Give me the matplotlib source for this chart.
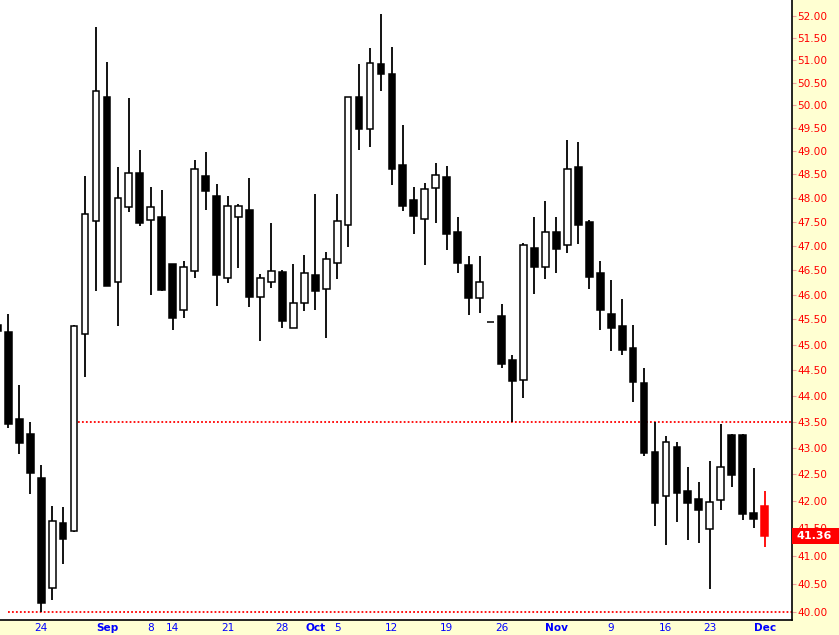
import matplotlib
matplotlib.use("Agg")
import matplotlib.pyplot as plt
import matplotlib.transforms as mtransforms
from matplotlib.patches import Rectangle
from matplotlib.ticker import FixedLocator, NullLocator
import numpy as np

# daily OHLC, one entry per trading session (first one is cut off at the left edge)
opens = [45.38, 45.24, 43.55, 43.26, 42.43, 40.43, 41.60, 41.45, 45.21, 47.51,
         50.18, 46.25, 47.81, 48.54, 47.53, 47.59, 46.63, 45.69, 46.48, 48.47,
         48.04, 46.33, 47.59, 47.74, 45.96, 46.25, 46.46, 45.33, 45.82, 46.39,
         46.12, 46.64, 47.44, 50.18, 49.48, 50.91, 50.69, 48.69, 47.95, 47.55,
         48.20, 48.45, 47.28, 46.61, 45.94, 45.45, 45.57, 44.70, 44.30, 46.96,
         46.56, 47.28, 47.02, 48.65, 47.50, 46.44, 45.61, 45.36, 44.94, 44.24,
         42.92, 42.09, 43.02, 42.19, 42.05, 41.49, 42.03, 43.24, 43.24, 41.78,
         41.92]
highs = [45.45, 45.60, 44.20, 43.49, 42.67, 41.92, 41.89, 45.38, 48.46, 51.75,
         50.97, 48.65, 50.16, 49.02, 48.23, 48.16, 46.63, 46.68, 48.80, 48.97,
         48.30, 48.04, 47.87, 48.43, 46.42, 47.47, 46.50, 46.63, 46.81, 48.09,
         46.88, 48.09, 50.19, 50.91, 51.27, 52.05, 51.30, 49.57, 48.24, 48.32,
         48.74, 48.68, 47.59, 46.79, 46.79, 45.45, 45.81, 44.80, 47.06, 47.59,
         47.93, 47.59, 49.25, 49.19, 47.54, 46.69, 46.29, 45.91, 45.38, 44.53,
         43.49, 43.22, 43.11, 42.64, 42.36, 42.75, 43.45, 43.27, 43.27, 42.62,
         42.19]
lows = [45.20, 43.37, 42.88, 42.13, 40.00, 40.22, 40.86, 41.44, 44.37, 46.08,
        46.17, 45.37, 47.70, 47.42, 46.00, 46.07, 45.28, 45.52, 46.33, 47.74,
        45.76, 46.23, 46.54, 45.74, 45.06, 46.14, 45.33, 45.33, 45.66, 45.68,
        45.12, 46.31, 46.97, 49.03, 49.09, 50.32, 48.28, 47.72, 47.24, 46.60,
        47.48, 46.92, 46.44, 45.58, 45.62, 45.45, 44.53, 43.50, 43.96, 46.02,
        46.31, 46.43, 46.84, 47.03, 46.12, 45.29, 44.87, 44.79, 43.88, 42.85,
        41.55, 41.20, 41.61, 41.28, 41.24, 40.40, 41.84, 42.27, 41.66, 41.50,
        41.17]
closes = [45.26, 43.45, 43.09, 42.52, 40.16, 41.63, 41.31, 45.37, 47.67, 50.31,
          46.18, 48.00, 48.54, 47.48, 47.81, 46.10, 45.52, 46.56, 48.62, 48.15,
          46.39, 47.83, 47.83, 45.96, 46.33, 46.48, 45.46, 45.82, 46.43, 46.08,
          46.72, 47.51, 50.18, 49.48, 50.94, 50.70, 48.61, 47.83, 47.61, 48.19,
          48.49, 47.24, 46.64, 45.94, 46.26, 45.45, 44.62, 44.28, 47.02, 46.56,
          47.28, 46.94, 48.61, 47.44, 46.35, 45.68, 45.33, 44.90, 44.26, 42.90,
          41.96, 43.10, 42.15, 41.96, 41.84, 41.98, 42.64, 42.49, 41.77, 41.67,
          41.36]

date_ticks = [3, 9, 13, 15, 20, 25, 28, 30, 35, 40, 45, 50, 55, 60, 64, 69]
date_labels = ["24", "Sep", "8", "14", "21", "28", "Oct", "5", "12", "19",
               "26", "Nov", "9", "16", "23", "Dec"]
month_labels = {"Sep", "Oct", "Nov", "Dec"}
price_ticks = np.arange(40.0, 52.01, 0.5)
levels = [43.50, 40.00]
level_start = [6, 0]
last_price = closes[-1]

x = np.arange(-1, len(opens) - 1)
o = np.array(opens)
h = np.array(highs)
l = np.array(lows)
c = np.array(closes)

bg = "#FFFFD2"
fig = plt.figure(figsize=(8.39, 6.35), dpi=100, facecolor=bg)
ax = fig.add_axes([0, 15 / 635, 792 / 839, 620 / 635])
ax.set_facecolor("white")
ax.set_yscale("log")
ax.set_ylim(39.86, 52.37)
ax.set_xlim(-0.757, 71.5)

w = 0.62
up = c > o
down = c < o
flat = c == o
last = np.zeros_like(up)
last[-1] = True

ax.vlines(x[~last], l[~last], h[~last], color="black", lw=1.3, zorder=2)
ax.vlines(x[last], l[last], h[last], color="red", lw=1.3, zorder=2)
sel = up & ~last
ax.bar(x[sel], c[sel] - o[sel], bottom=o[sel], width=w, facecolor="white",
       edgecolor="black", lw=1.1, zorder=3)
sel = down & ~last
ax.bar(x[sel], o[sel] - c[sel], bottom=c[sel], width=w, facecolor="black",
       edgecolor="black", lw=1.1, zorder=3)
ax.bar(x[last], o[last] - c[last], bottom=c[last], width=w, facecolor="red",
       edgecolor="red", lw=1.1, zorder=3)
ax.hlines(o[flat], x[flat] - w / 2, x[flat] + w / 2, color="black", lw=1.1, zorder=3)

for lev, xs in zip(levels, level_start):
    ax.hlines(lev, xs, 71.5, color="red", lw=1.3, linestyles=(0, (1, 1.2)), zorder=1)

# axes frame
for side in ["top", "left"]:
    ax.spines[side].set_visible(False)
for side in ["right", "bottom"]:
    ax.spines[side].set_color("black")
    ax.spines[side].set_linewidth(1.2)

ax.yaxis.tick_right()
ax.yaxis.set_major_locator(FixedLocator(price_ticks))
ax.yaxis.set_minor_locator(NullLocator())
ax.set_yticklabels([f"{v:.2f}" for v in price_ticks])
ax.tick_params(axis="y", which="major", length=3, width=0.8, color="#f2a0a0",
               labelcolor="red", labelsize=7.6, pad=1)

ax.set_xticks(date_ticks)
ax.set_xticklabels(date_labels)
ax.tick_params(axis="x", length=0, labelcolor="#0000ff", labelsize=7.6, pad=2)
for t in ax.get_xticklabels():
    if t.get_text() in month_labels:
        t.set_fontweight("bold")

# last price flag on the price scale
trans = mtransforms.blended_transform_factory(ax.transAxes, ax.transData)
hh = np.exp(8 * 0.00044)
ax.add_patch(Rectangle((1.0, last_price / hh), 0.06, last_price * hh - last_price / hh,
                       transform=trans, facecolor="red", edgecolor="none",
                       clip_on=False, zorder=5))
ax.text(1.006, last_price, f"{last_price:.2f}", transform=trans, color="white",
        fontsize=8, fontweight="bold", va="center", ha="left", zorder=6)

fig.savefig("out.png", dpi=100, facecolor=bg)
